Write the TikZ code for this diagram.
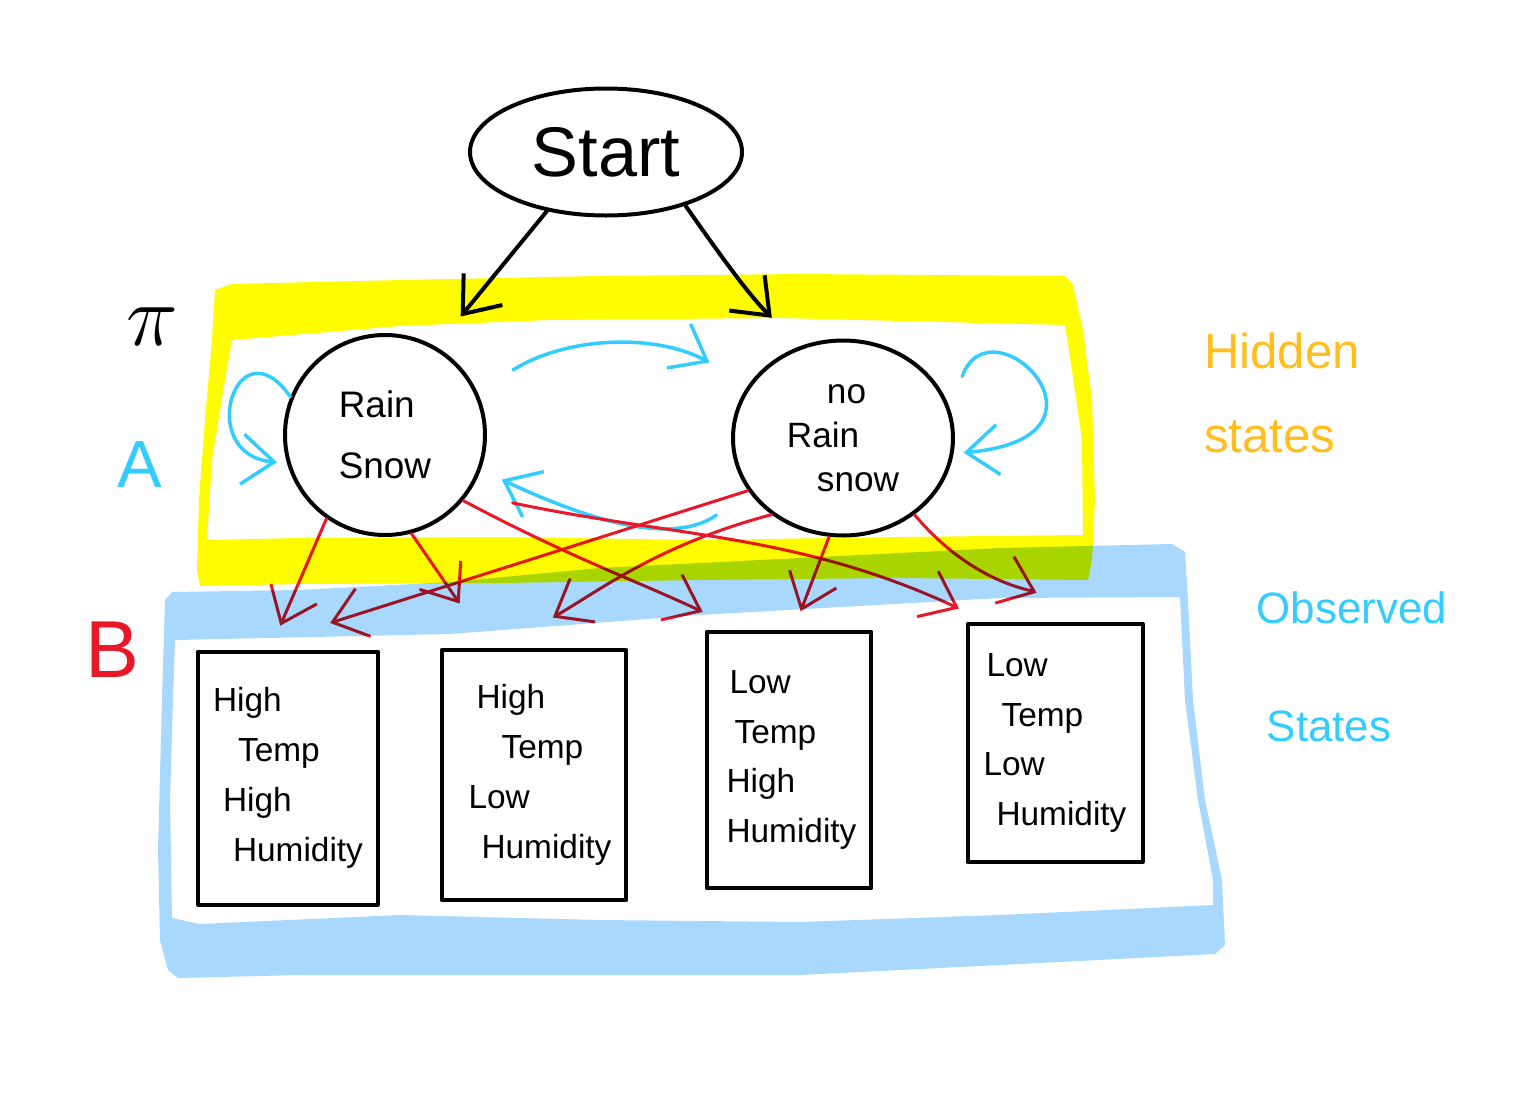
\documentclass[tikz,border=0pt]{standalone}
\usepackage{fontspec}
\setmainfont{Liberation Sans}
\usetikzlibrary{arrows.meta,shapes.geometric}
\definecolor{hlyellow}{RGB}{255,252,0}
\definecolor{hlblue}{RGB}{168,216,253}
\definecolor{penblue}{RGB}{51,204,255}
\definecolor{penred}{RGB}{232,24,40}
\definecolor{penorange}{RGB}{255,190,30}

\begin{document}
\begin{tikzpicture}[x=0.1mm,y=0.1mm,
        ink/.style={line width=0.4mm, line cap=round, line join=round},
        state/.style={ink, draw, circle, minimum size=20mm, inner sep=0pt,
                        align=left, font=\fontsize{10.5}{17.5}\selectfont},
        obs/.style={ink, draw, rectangle, inner sep=1.5mm, align=left,
                        font=\fontsize{9.5}{14.2}\selectfont},
        barb/.style={-{Straight Barb[length=3.2mm,width=5mm]}},
        blackarr/.style={ink, barb, black},
        bluearr/.style={ink, barb, penblue, line width=0.35mm},
        redarr/.style={ink, barb, penred, line width=0.3mm}]
    \useasboundingbox (0,0) rectangle (1525,-1110);

    % start and hidden states
    \node[ink, draw, ellipse, minimum width=27.2mm, minimum height=12.7mm,
            font=\fontsize{20}{24}\selectfont] (start) at (606,-152) {Start};
    \node[state] (rain) at (385,-435) {Rain\\Snow};
    \node[state, ellipse, minimum width=22mm, minimum height=19.5mm,
            font=\fontsize{10}{12.5}\selectfont] (norain) at (843,-438)
            {\hspace{4mm}no\\Rain\\\hspace{3mm}snow};

    % observed states
    \node[obs, minimum width=17.5mm, minimum height=25.3mm] (obsA) at (288,-778)
            {High\\\hspace{2.5mm}Temp\\\hspace{1mm}High\\\hspace{2mm}Humidity};
    \node[obs, minimum width=18.2mm, minimum height=25mm] (obsB) at (534,-775)
            {\hspace{2mm}High\\\hspace{4.5mm}Temp\\\hspace{1.2mm}Low\\\hspace{2.5mm}Humidity};
    \node[obs, minimum width=15.8mm, minimum height=25.6mm] (obsC) at (789,-760)
            {\hspace{0.8mm}Low\\\hspace{1.3mm}Temp\\\hspace{0.5mm}High\\\hspace{0.5mm}Humidity};
    \node[obs, minimum width=17.5mm, minimum height=23.8mm] (obsD) at (1055,-743)
            {\hspace{0.3mm}Low\\\hspace{1.8mm}Temp\\Low\\\hspace{1.3mm}Humidity};

    % labels
    \node[font=\fontsize{24}{24}\selectfont] (pi) at (152,-327) {$\pi$};
    \node[text=penblue, font=\fontsize{19}{19}\selectfont] (lblA) at (140,-465) {A};
    \node[text=penred, font=\fontsize{23}{23}\selectfont] (lblB) at (112,-650) {B};
    \node[text=penorange, align=left, font=\fontsize{14}{24}\selectfont]
            (hidden) at (1282,-393) {Hidden\\states};
    \node[text=penblue, align=left, font=\fontsize{12.5}{33.5}\selectfont]
            (observed) at (1352,-667) {Observed\\\hspace{1mm}States};

    % pi
    \draw[blackarr, shorten >=3.9mm] (start.225) -- (rain.60);
    \draw[blackarr, shorten >=4mm] (start.-34) to[out=-55,in=135] (norain.115);

    % A
    \draw[bluearr, shorten >=1mm] (rain.158) to[out=125,in=175,looseness=3.6] (rain.196);
    \draw[bluearr, shorten <=4.2mm, shorten >=4.5mm] (rain.25) to[bend left=30] (norain.150);
    \draw[bluearr, shorten <=4mm, shorten >=2.3mm]
        (norain.210) .. controls +(215:100) and +(-25:100) .. (rain.-20);
    \draw[bluearr, shorten <=3.5mm, shorten >=1mm]
        (norain.15) .. controls +(70:120) and +(5:180) .. (norain.-8);

    % B
    \draw[redarr, shorten >=2.6mm] (rain.235) -- (obsA.98);
    \draw[redarr, shorten >=5.4mm] (rain.-75) -- (obsB.109);
    \draw[redarr, shorten >=4.3mm] (rain.-40) to[out=-28,in=155] (obsC.110);
    \draw[redarr, shorten <=4.5mm, shorten >=3.2mm] (rain.-35) to[out=-12,in=155] (obsD.119);
    \draw[redarr, shorten >=8.8mm] (norain.209) -- (obsA.108);
    \draw[redarr, shorten >=6.1mm] (norain.227) to[out=195,in=30] (obsB.105);
    \draw[redarr, shorten >=2mm] (norain.262) -- (obsC.88);
    \draw[redarr, shorten >=7.8mm] (norain.-47) to[out=-50,in=158] (obsD.66);

    % highlighter frames
    \begin{scope}[blend mode=multiply]
        \fill[hlblue, even odd rule]
            (172,-592) -- (300,-590) -- (450,-582) -- (600,-568) -- (800,-558)
            -- (1000,-548) -- (1172,-544) -- (1185,-552) -- (1188,-600)
            -- (1193,-700) -- (1205,-800) -- (1222,-880) -- (1225,-945)
            -- (1215,-954) -- (1000,-965) -- (800,-975) -- (500,-975)
            -- (300,-975) -- (178,-978) -- (168,-970) -- (160,-940)
            -- (158,-850) -- (162,-700) -- (165,-600) -- cycle
            (175,-640) -- (450,-634) -- (700,-615) -- (1000,-598) -- (1180,-597)
            -- (1185,-700) -- (1198,-800) -- (1213,-880) -- (1213,-905)
            -- (1000,-915) -- (800,-922) -- (600,-920) -- (400,-915)
            -- (200,-924) -- (172,-918) -- (170,-800) -- (173,-700) -- cycle;
        \fill[hlyellow, even odd rule]
            (215,-290) -- (232,-284) -- (400,-280) -- (600,-276) -- (800,-274)
            -- (1065,-276) -- (1073,-285) -- (1083,-330) -- (1092,-400)
            -- (1095,-500) -- (1092,-560) -- (1088,-580) -- (900,-578)
            -- (700,-580) -- (500,-583) -- (300,-584) -- (200,-586)
            -- (197,-570) -- (199,-500) -- (205,-420) -- (212,-340) -- cycle
            (232,-340) -- (400,-326) -- (550,-320) -- (780,-318) -- (1065,-325)
            -- (1072,-370) -- (1082,-440) -- (1083,-535) -- (900,-537)
            -- (700,-540) -- (500,-537) -- (300,-538) -- (207,-540)
            -- (212,-460) -- (225,-380) -- cycle;
    \end{scope}
\end{tikzpicture}
\end{document}
